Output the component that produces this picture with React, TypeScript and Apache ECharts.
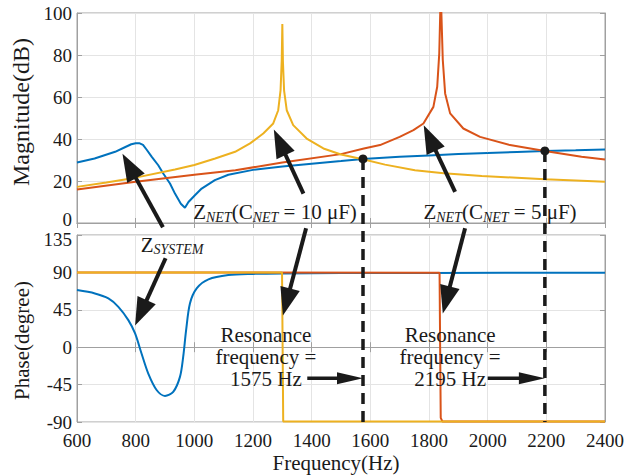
import React, { useEffect, useRef } from 'react';
import * as echarts from 'echarts';

// ---------- data ----------
const freqTicks = [600, 800, 1000, 1200, 1400, 1600, 1800, 2000, 2200, 2400];

// Z_SYSTEM magnitude (dB)
const sysMagFreq = [600, 660, 730, 765, 785, 800, 812, 825, 837, 855, 877, 894, 917, 934, 954, 968, 980, 1002, 1025, 1070, 1116, 1200, 1300, 1400, 1500, 1575, 1700, 1800, 1900, 2000, 2100, 2195, 2300, 2400];
const sysMag = [28.8, 30.7, 33.9, 36.2, 37.5, 38.0, 38.0, 37.2, 35.0, 31.5, 27.5, 23.6, 18.8, 14.0, 9.2, 7.3, 10.0, 13.2, 16.4, 20.4, 23.0, 25.3, 26.9, 28.2, 29.5, 30.5, 31.5, 32.2, 32.8, 33.3, 33.8, 34.3, 34.6, 35.0];

// Z_NET (C_NET = 10 uF) magnitude (dB)
const net10Freq = [600, 700, 800, 934, 1000, 1071, 1139, 1190, 1235, 1269, 1286, 1294, 1298, 1300, 1302, 1306, 1315, 1337, 1383, 1440, 1500, 1578, 1650, 1752, 1850, 1980, 2100, 2195, 2300, 2400];
const net10Mag = [17.2, 19.3, 21.6, 25.5, 27.6, 30.7, 33.9, 37.9, 42.6, 47.4, 53.7, 63.3, 77.6, 94.7, 77.0, 63.0, 53.7, 46.6, 40.2, 35.5, 32.6, 30.2, 27.8, 25.1, 23.7, 22.4, 21.5, 20.8, 20.2, 19.6];

// Z_NET (C_NET = 5 uF) magnitude (dB)
const net5Freq = [600, 800, 1000, 1140, 1300, 1500, 1578, 1633, 1700, 1747, 1781, 1815, 1828, 1835, 1840, 1847, 1855, 1872, 1917, 1974, 2076, 2195, 2320, 2400];
const net5Mag = [15.9, 19.6, 23.0, 25.1, 28.8, 32.8, 35.5, 37.1, 41.0, 44.2, 47.4, 55.3, 64.9, 80.8, 110, 77.6, 61.7, 52.2, 45.0, 41.0, 37.1, 34.3, 31.5, 30.2];

// Phases (degree)
const sysPhaseFreq = [600, 661, 707, 741, 775, 798, 820, 843, 872, 900, 928, 951, 962, 972, 985, 1008, 1048, 1116, 1200, 1300, 1500, 1800, 2400];
const sysPhase = [68.7, 64.7, 58.7, 48.6, 32.6, 16.5, -7.6, -31.7, -51.8, -58.6, -53.8, -35.7, -11.6, 20.5, 52.7, 70.8, 81.6, 86.8, 88.2, 88.8, 89.2, 89.4, 89.6];
const net10PhaseFreq = [600, 1299, 1301, 1303, 2400];
const net10Phase = [90, 90, 0, -89.5, -89.5];
const net5PhaseFreq = [600, 1836, 1838, 1840, 1846, 2400];
const net5Phase = [90, 89.5, 0, -85, -89.5, -89.5];

// resonance points (Hz, dB)
const resonanceFreq = [1575, 2195];
const resonanceMag = [30.5, 34.3];

// ---------- styling ----------
const FONT = "'Liberation Serif', 'Times New Roman', Times, serif";
const BLUE = '#0072BD';
const ORANGE = '#D95319';
const YELLOW = '#EDB120';
const INK = '#1a1a1a';
const AXIS = '#a0a0a0';
const GRIDLINE = '#e4e4e4';
const TICK_FS = 19;

// annotation arrows: [gridIndex, fromX, fromY, toX, toY] in data coords
const slantArrows: [number, number, number, number, number][] = [
  [0, 893, -2, 755, 33],
  [1, 902, 107, 798, 26],
  [0, 1372, 14, 1271, 44.5],
  [1, 1381, 143, 1302, 38],
  [0, 1889, 14.8, 1782, 46.5],
  [1, 1923, 143, 1847, 40.5],
];
const resArrows: [number, number, number, number][] = [
  [1385, -37.5, 1575, -37.5],
  [2000, -37.5, 2195, -37.5],
];

export default function App() {
  const ref = useRef<HTMLDivElement>(null);

  useEffect(() => {
    const el = ref.current!;
    const chart = echarts.init(el, null, { renderer: 'svg' });
    const zip = (xs: number[], ys: number[]) => xs.map((x, i) => [x, ys[i]]);

    const tickLabel = { fontSize: TICK_FS, fontFamily: FONT, color: INK, lineHeight: 12 };
    const baseX = (grid: number, labels: boolean) => ({
      type: 'value' as const,
      gridIndex: grid,
      min: freqTicks[0],
      max: freqTicks[freqTicks.length - 1],
      interval: 200,
      axisLine: { show: true, lineStyle: { color: AXIS } },
      axisTick: { show: true, inside: true, length: 5, lineStyle: { color: AXIS } },
      splitLine: { show: true, lineStyle: { color: GRIDLINE, width: 1 } },
      axisLabel: labels ? { ...tickLabel, margin: 12, formatter: (v: number) => String(v) } : { show: false },
    });
    const sideAxis = (grid: number, pos: string, min: number, max: number, interval: number) => ({
      type: 'value' as const,
      gridIndex: grid,
      position: pos,
      min,
      max,
      interval,
      axisLine: { show: true, lineStyle: { color: AXIS } },
      axisTick: { show: true, inside: true, length: 5, lineStyle: { color: AXIS } },
      splitLine: { show: false },
      axisLabel: { show: false },
    });

    const option: any = {
      animation: false,
      backgroundColor: '#fff',
      grid: [
        { left: 77, top: 13, width: 528, height: 210, show: true, borderColor: AXIS, borderWidth: 1, backgroundColor: '#fff' },
        { left: 77, top: 235, width: 528, height: 187, show: true, borderColor: AXIS, borderWidth: 1, backgroundColor: '#fff' },
      ],
      xAxis: [
        baseX(0, false),
        {
          ...baseX(1, true),
          name: 'Frequency(Hz)',
          nameLocation: 'middle',
          nameGap: 30,
          nameTextStyle: { fontSize: 21, fontFamily: FONT, color: INK, padding: [0, 10, 0, 0] },
        },
        sideAxis(0, 'top', 600, 2400, 200),
        sideAxis(1, 'top', 600, 2400, 200),
      ],
      yAxis: [
        {
          type: 'value',
          gridIndex: 0,
          min: 0,
          max: 100,
          interval: 20,
          axisLine: { show: true, lineStyle: { color: AXIS } },
          axisTick: { show: true, inside: true, length: 5, lineStyle: { color: AXIS } },
          splitLine: { show: true, lineStyle: { color: GRIDLINE } },
          axisLabel: {
            ...tickLabel,
            margin: 5,
            formatter: (v: number) => (v === 0 ? '{lo|0}' : String(v)),
            rich: { lo: { fontSize: TICK_FS, fontFamily: FONT, color: INK, lineHeight: 12, padding: [0, 0, 8, 0] } },
          },
          name: 'Magnitude(dB)',
          nameLocation: 'middle',
          nameGap: 43,
          nameTextStyle: { fontSize: 24, fontFamily: FONT, color: INK, padding: [0, 0, 0, 12] },
        },
        {
          type: 'value',
          gridIndex: 1,
          min: -90,
          max: 135,
          interval: 45,
          axisLine: { show: true, lineStyle: { color: AXIS } },
          axisTick: { show: true, inside: true, length: 5, lineStyle: { color: AXIS } },
          splitLine: { show: true, lineStyle: { color: GRIDLINE } },
          axisLabel: {
            ...tickLabel,
            margin: 5,
            formatter: (v: number) => (v === 135 ? '{hi|135}' : String(v)),
            rich: { hi: { fontSize: TICK_FS, fontFamily: FONT, color: INK, lineHeight: 12, padding: [8, 0, 0, 0] } },
          },
          name: 'Phase(degree)',
          nameLocation: 'middle',
          nameGap: 43,
          nameTextStyle: { fontSize: 21, fontFamily: FONT, color: INK, padding: [0, 24, 0, 0] },
        },
        sideAxis(0, 'right', 0, 100, 20),
        sideAxis(1, 'right', -90, 135, 45),
      ],
      series: [
        { name: 'Z_SYSTEM', type: 'line', xAxisIndex: 0, yAxisIndex: 0, data: zip(sysMagFreq, sysMag), showSymbol: false, lineStyle: { color: BLUE, width: 2 }, itemStyle: { color: BLUE } },
        { name: 'Z_NET 5uF', type: 'line', xAxisIndex: 0, yAxisIndex: 0, data: zip(net5Freq, net5Mag), showSymbol: false, lineStyle: { color: ORANGE, width: 2 }, itemStyle: { color: ORANGE } },
        { name: 'Z_NET 10uF', type: 'line', xAxisIndex: 0, yAxisIndex: 0, data: zip(net10Freq, net10Mag), showSymbol: false, lineStyle: { color: YELLOW, width: 2 }, itemStyle: { color: YELLOW } },
        { name: 'Z_SYSTEM phase', type: 'line', xAxisIndex: 1, yAxisIndex: 1, data: zip(sysPhaseFreq, sysPhase), smooth: 0.3, showSymbol: false, lineStyle: { color: BLUE, width: 2 }, itemStyle: { color: BLUE } },
        { name: 'Z_NET 5uF phase', type: 'line', xAxisIndex: 1, yAxisIndex: 1, data: zip(net5PhaseFreq, net5Phase), showSymbol: false, lineStyle: { color: ORANGE, width: 2 }, itemStyle: { color: ORANGE } },
        { name: 'Z_NET 10uF phase', type: 'line', xAxisIndex: 1, yAxisIndex: 1, data: zip(net10PhaseFreq, net10Phase), showSymbol: false, lineStyle: { color: YELLOW, width: 2 }, itemStyle: { color: YELLOW } },
      ],
    };
    chart.setOption(option);

    const toPx = (g: number, x: number, y: number): number[] =>
      chart.convertToPixel({ xAxisIndex: g, yAxisIndex: g }, [x, y]) as number[];

    const arrow = (p0: number[], p1: number[], headLen: number, headW: number, lw: number) => {
      const dx = p1[0] - p0[0];
      const dy = p1[1] - p0[1];
      const L = Math.hypot(dx, dy);
      const ux = dx / L;
      const uy = dy / L;
      const bx = p1[0] - ux * headLen;
      const by = p1[1] - uy * headLen;
      const nx = -uy;
      const ny = ux;
      return [
        { type: 'line', z: 100, shape: { x1: p0[0], y1: p0[1], x2: bx + ux * 3, y2: by + uy * 3 }, style: { stroke: INK, lineWidth: lw } },
        { type: 'polygon', z: 100, shape: { points: [[p1[0], p1[1]], [bx + nx * headW, by + ny * headW], [bx - nx * headW, by - ny * headW]] }, style: { fill: INK } },
      ];
    };

    const graphics: any[] = [];
    // dashed resonance lines and dots
    resonanceFreq.forEach((f, i) => {
      const top = toPx(0, f, resonanceMag[i]);
      const bot = toPx(1, f, -90);
      graphics.push({ type: 'line', z: 90, shape: { x1: top[0], y1: top[1], x2: bot[0], y2: bot[1] }, style: { stroke: INK, lineWidth: 3.5, lineDash: [11, 7] } });
      graphics.push({ type: 'circle', z: 95, shape: { cx: top[0], cy: top[1], r: 4.5 }, style: { fill: INK } });
    });
    slantArrows.forEach(([g, x0, y0, x1, y1]) => {
      graphics.push(...arrow(toPx(g, x0, y0), toPx(g, x1, y1), 28, 10, 4));
    });
    resArrows.forEach(([x0, y0, x1, y1]) => {
      graphics.push(...arrow(toPx(1, x0, y0), toPx(1, x1, y1), 26, 6, 3.5));
    });

    const rich = {
      m: { fontSize: 21, fontFamily: FONT, fill: INK, lineHeight: 24, verticalAlign: 'middle' },
      s: { fontSize: 14, fontFamily: FONT, fontStyle: 'italic', fill: INK, lineHeight: 14, verticalAlign: 'bottom' },
    };
    const richText = (g: number, x: number, y: number, text: string) => {
      const p = toPx(g, x, y);
      return { type: 'text', z: 110, x: p[0], y: p[1], style: { text, rich, align: 'center', verticalAlign: 'middle', fill: INK } };
    };
    graphics.push(richText(0, 1275, 5.1, '{m|Z}{s|NET}{m|(C}{s|NET}{m| = 10 μF)}'));
    graphics.push(richText(0, 2042, 5.1, '{m|Z}{s|NET}{m|(C}{s|NET}{m| = 5 μF)}'));
    graphics.push(richText(1, 924, 123, '{m|Z}{s|SYSTEM}'));

    const plainText = (x: number, y: number, text: string) => {
      const p = toPx(1, x, y);
      return {
        type: 'text', z: 110, x: p[0], y: p[1],
        style: { text, fontSize: 21, fontFamily: FONT, fill: INK, lineHeight: 22, align: 'center', verticalAlign: 'middle' },
      };
    };
    graphics.push(plainText(1244, -12, 'Resonance\nfrequency =\n1575 Hz'));
    graphics.push(plainText(1872, -12, 'Resonance\nfrequency =\n2195 Hz'));

    chart.setOption({ graphic: graphics });

    return () => {
      chart.dispose();
    };
  }, []);

  return <div ref={ref} style={{ position: 'fixed', left: 0, top: 0, width: 635, height: 475 }} />;
}
